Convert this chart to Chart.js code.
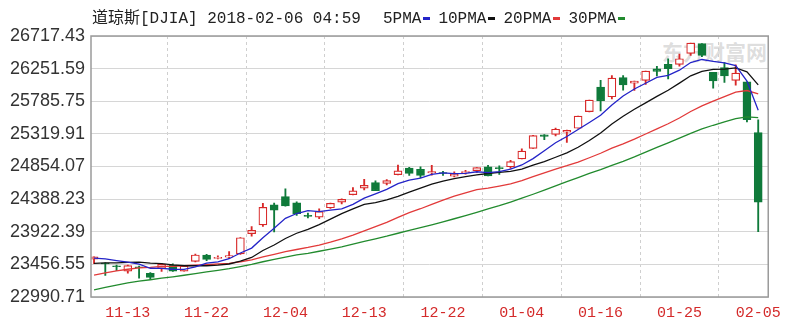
<!DOCTYPE html>
<html lang="zh">
<head>
  <meta charset="UTF-8" />
  <title>道琼斯[DJIA]</title>
  <script src="https://cdn.jsdelivr.net/npm/chart.js@4"></script>
  <style>
    html, body { margin: 0; padding: 0; background: #fff; }
    #wrap { position: relative; width: 788px; height: 322px; overflow: hidden; }
    #chart { position: absolute; left: 0; top: 0; }
    .title { position: absolute; left: 92px; top: 10px; font: 16px/18px "Liberation Mono", "Noto Sans CJK SC", monospace; color: #222; white-space: nowrap; }
    .legend { position: absolute; left: 383px; top: 10px; font: 16px/18px "Liberation Mono", monospace; color: #222; display: flex; white-space: nowrap; }
    .legend span.item { margin-right: 8px; }
    .legend i { display: inline-block; width: 7px; height: 3px; margin-left: 2px; vertical-align: 3px; }
    .wm { position: absolute; left: 662px; top: 36px; font: bold 21px "Noto Sans CJK SC", sans-serif; color: rgba(150,150,150,0.32); }
  </style>
</head>
<body>
  <div id="wrap">
    <div class="wm">东方财富网</div>
    <canvas id="chart" width="788" height="322"></canvas>
    <div class="title">道琼斯[DJIA] 2018-02-06 04:59</div>
    <div class="legend" id="legend"></div>
  </div>

  <script>
    // trading days shown (11-08 .. 02-05)
    const dates = ['11-08','11-09','11-10','11-13','11-14','11-15','11-16','11-17','11-20','11-21',
                   '11-22','11-24','11-27','11-28','11-29','11-30','12-01','12-04','12-05','12-06',
                   '12-07','12-08','12-11','12-12','12-13','12-14','12-15','12-18','12-19','12-20',
                   '12-21','12-22','12-26','12-27','12-28','12-29','01-02','01-03','01-04','01-05',
                   '01-08','01-09','01-10','01-11','01-12','01-16','01-17','01-18','01-19','01-22',
                   '01-23','01-24','01-25','01-26','01-29','01-30','01-31','02-01','02-02','02-05'];
    const xLabels = ['11-13','11-22','12-04','12-13','12-22','01-04','01-16','01-25','02-05'];
    const yTicks = [22990.71, 23456.55, 23922.39, 24388.23, 24854.07, 25319.91, 25785.75, 26251.59, 26717.43];

    const opens  = [23531,23470,23430,23360,23420,23330,23400,23443,23360,23500,23590,23540,23560,23605,23895,24020,24305,24424,24335,24150,
                    24130,24265,24345,24452,24545,24624,24612,24739,24832,24814,24762,24765,24715,24766,24795,24849,24830,24850,24964,25114,
                    25308,25312,25345,25400,25638,25987,25850,26122,26045,26083,26248,26313,26313,26469,26609,26198,26268,26083,26062,25338];
    const highs  = [23565,23480,23446,23445,23432,23340,23470,23465,23440,23604,23599,23580,23638,23840,23995,24327,24330,24534,24349,24190,
                    24250,24330,24392,24552,24672,24650,24669,24876,24843,24850,24872,24784,24778,24799,24840,24871,24864,24941,25105,25299,
                    25311,25404,25374,25575,25803,26086,26153,26154,26072,26215,26285,26393,26459,26617,26609,26198,26338,26306,26062,25520];
    const lows   = [23468,23300,23365,23330,23260,23242,23355,23356,23358,23490,23510,23535,23540,23597,23860,24000,23921,24288,24155,24120,
                    24110,24255,24320,24450,24520,24508,24590,24734,24725,24696,24729,24725,24705,24745,24770,24719,24741,24825,24963,25112,
                    25236,25290,25199,25400,25635,25649,25820,25945,25942,26026,26149,26106,26286,26440,26424,25972,26053,26014,25490,23923];
    const closes = [23563,23462,23422,23440,23409,23271,23458,23358,23430,23591,23526,23558,23581,23837,23941,24272,24232,24290,24181,24141,
                    24211,24329,24386,24505,24585,24509,24652,24792,24755,24727,24782,24754,24746,24774,24838,24719,24824,24923,25075,25296,
                    25283,25386,25369,25575,25803,25793,26116,26018,26072,26215,26211,26252,26393,26617,26439,26077,26149,26187,25521,24346];

    const ma5  = [23545,23534,23510,23489,23459,23401,23400,23387,23385,23422,23473,23493,23537,23619,23689,23838,23973,24114,24183,24223,
                  24211,24230,24250,24314,24403,24463,24527,24609,24659,24687,24742,24762,24753,24757,24779,24766,24780,24816,24876,24967,
                  25080,25193,25282,25382,25483,25585,25731,25861,25960,26043,26126,26154,26229,26338,26382,26356,26335,26294,26075,25656];
    const ma10 = [23472,23478,23477,23486,23489,23473,23467,23449,23437,23440,23437,23446,23462,23502,23555,23655,23733,23826,23901,23956,
                  24024,24102,24182,24249,24313,24337,24379,24429,24487,24545,24602,24645,24681,24708,24733,24754,24771,24784,24816,24873,
                  24923,24986,25049,25129,25225,25333,25462,25571,25671,25763,25856,25942,26045,26149,26213,26241,26244,26261,26206,26019];
    const ma20 = [23304,23335,23363,23387,23407,23413,23428,23429,23437,23444,23454,23462,23470,23494,23522,23564,23600,23637,23669,23698,
                  23731,23774,23822,23875,23934,23996,24056,24127,24194,24251,24313,24373,24431,24478,24523,24545,24575,24607,24651,24709,
                  24763,24816,24865,24918,24979,25043,25117,25178,25244,25318,25390,25464,25547,25639,25719,25787,25853,25916,25939,25891];
    const ma30 = [23091,23127,23161,23191,23216,23237,23259,23279,23301,23326,23348,23372,23396,23425,23457,23494,23529,23561,23592,23615,
                  23644,23675,23707,23746,23786,23822,23859,23901,23941,23980,24021,24064,24108,24153,24200,24249,24294,24346,24401,24458,
                  24517,24578,24637,24695,24757,24808,24871,24928,24991,25060,25127,25191,25258,25328,25390,25443,25492,25539,25564,25552];

    const maNames = ['5PMA', '10PMA', '20PMA', '30PMA'];
    const maColors = ['#2424c8', '#111111', '#e23a3a', '#228b2e'];
    const upColor = '#d82828';
    const downColor = '#0f7a3a';

    // legend above the chart
    const legend = document.getElementById('legend');
    maNames.forEach((n, k) => {
      legend.innerHTML += `<span class="item">${n}<i style="background:${maColors[k]}"></i></span>`;
    });

    const isUp = closes.map((c, i) => c >= opens[i]);
    const bodyData = opens.map((o, i) => ({ x: i, y: [o, closes[i]] }));
    const wickData = lows.map((l, i) => ({ x: i, y: [l, highs[i]] }));
    const lineData = arr => arr.map((v, i) => ({ x: i, y: v }));

    const frame = {
      id: 'frame',
      afterDraw(chart) {
        const { ctx, chartArea: a } = chart;
        ctx.save();
        ctx.strokeStyle = '#9a9a9a';
        ctx.lineWidth = 1.5;
        ctx.strokeRect(a.left, a.top, a.right - a.left, a.bottom - a.top);
        ctx.restore();
      }
    };

    new Chart(document.getElementById('chart'), {
      type: 'bar',
      data: {
        datasets: [
          ...[ma5, ma10, ma20, ma30].map((arr, k) => ({
            type: 'line',
            label: maNames[k],
            data: lineData(arr),
            borderColor: maColors[k],
            borderWidth: 1.3,
            pointRadius: 0,
            tension: 0,
            order: 0
          })),
          {
            label: 'body',
            data: bodyData,
            grouped: false,
            barThickness: 8,
            minBarLength: 1,
            borderWidth: 1.2,
            borderSkipped: false,
            backgroundColor: isUp.map(u => u ? '#ffffff' : downColor),
            borderColor: isUp.map(u => u ? upColor : downColor),
            order: 1
          },
          {
            label: 'wick',
            data: wickData,
            grouped: false,
            barThickness: 1.2,
            borderWidth: 0,
            backgroundColor: isUp.map(u => u ? upColor : downColor),
            order: 2
          }
        ]
      },
      options: {
        responsive: false,
        animation: false,
        devicePixelRatio: 1,
        layout: { padding: { top: 36, right: 19, left: 0, bottom: 0 } },
        plugins: { legend: { display: false }, tooltip: { enabled: false } },
        scales: {
          x: {
            type: 'linear',
            offset: false,
            min: -0.27,
            max: 59.89,
            afterFit: s => { s.height = 25; },
            afterBuildTicks: s => { s.ticks = xLabels.map(l => ({ value: dates.indexOf(l) })); },
            grid: { color: '#cfcfcf', drawTicks: false },
            border: { display: false, dash: [3, 3] },
            ticks: {
              autoSkip: false,
              maxRotation: 0,
              padding: 7,
              color: '#d42a2a',
              font: { family: 'Liberation Mono', size: 15 },
              callback: v => dates[v]
            }
          },
          y: {
            min: yTicks[0],
            max: yTicks[yTicks.length - 1],
            afterFit: s => { s.width = 91; },
            afterBuildTicks: s => { s.ticks = yTicks.map(v => ({ value: v })); },
            grid: { color: '#d6d6d6', drawTicks: false },
            border: { display: false },
            ticks: {
              padding: 6,
              color: '#333',
              font: { family: 'Liberation Sans', size: 18 },
              callback: v => v.toFixed(2)
            }
          }
        }
      },
      plugins: [frame]
    });
  </script>
</body>
</html>
